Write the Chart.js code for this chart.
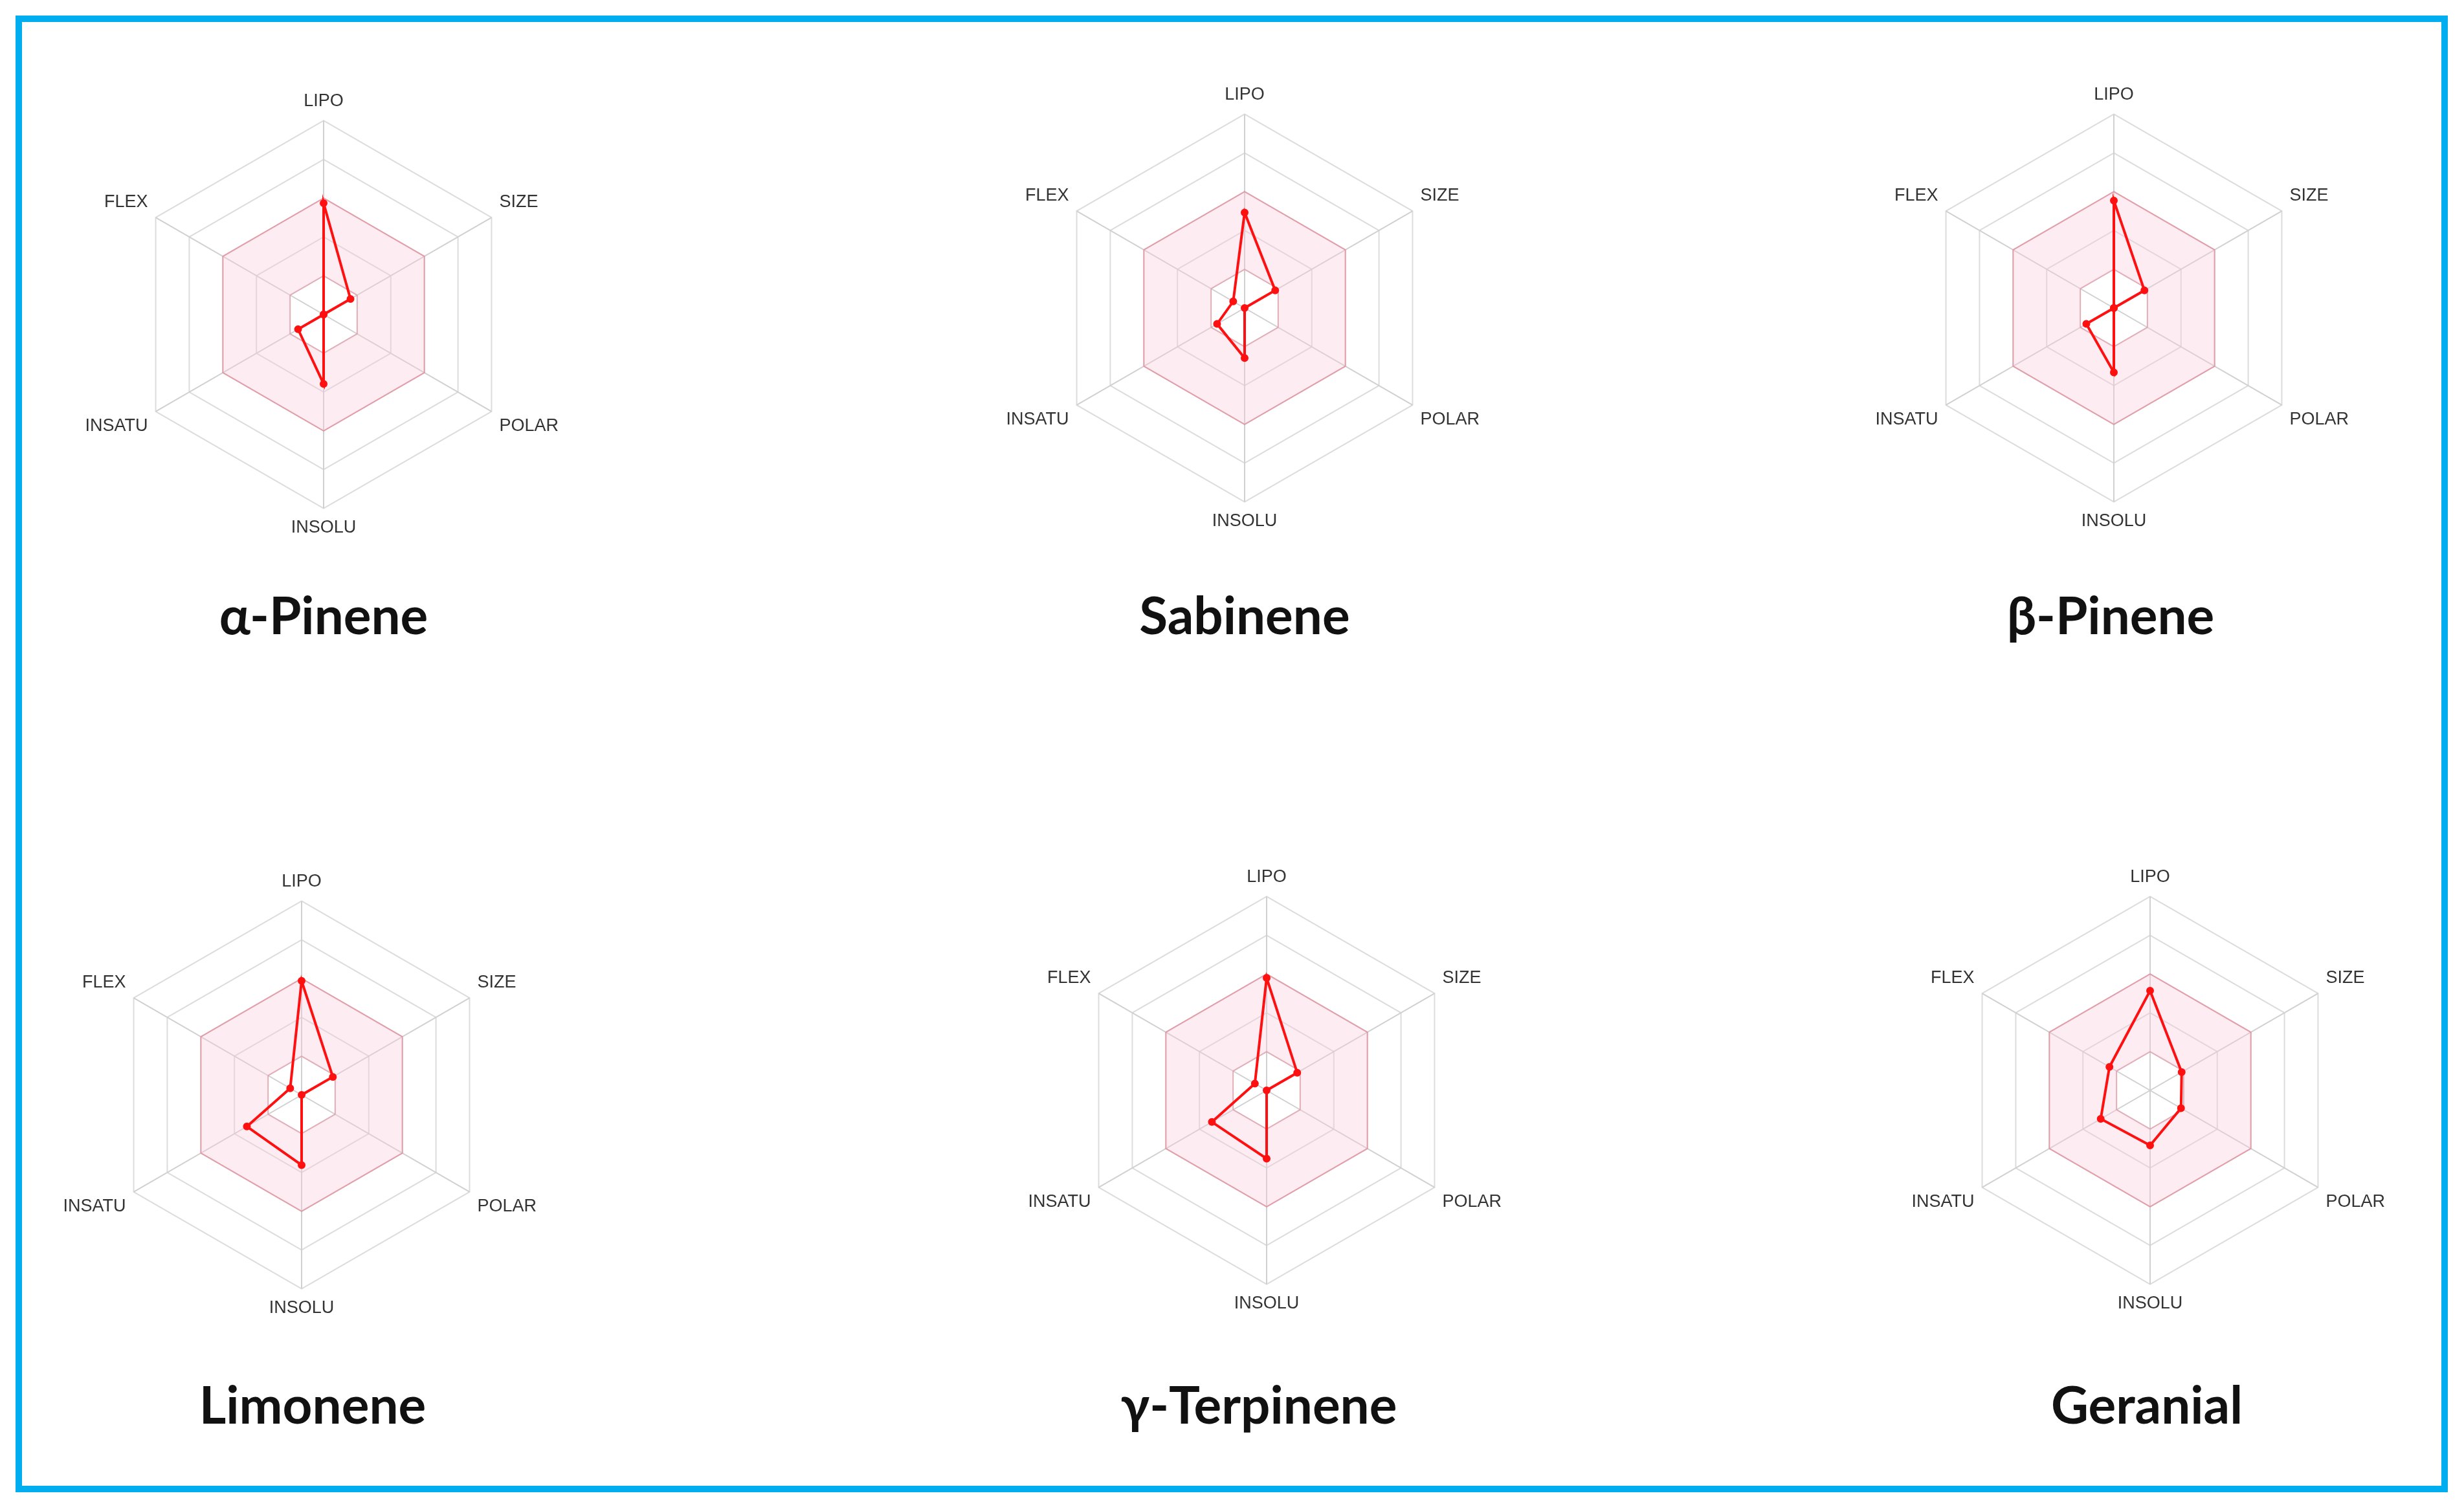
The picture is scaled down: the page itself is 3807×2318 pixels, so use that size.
<!DOCTYPE html>
<html>
<head>
<meta charset="UTF-8">
<title>Bioavailability radars</title>
<script src="https://cdn.jsdelivr.net/npm/chart.js"></script>
<style>
  html, body { margin: 0; padding: 0; background: #fff; }
  body { width: 3807px; height: 2318px; position: relative; overflow: hidden; }
  .frame { position: absolute; left: 24px; top: 24px; width: 3738px; height: 2262px; border: 10px solid #00aeef; }
  .cell { position: absolute; width: 1000px; height: 700px; }
  .title { position: absolute; width: 800px; text-align: center; font: bold 80px Lato, 'Open Sans', sans-serif; color: #111; }
</style>
</head>
<body>
<div class="frame"></div>

<script>
// axes of the radar
const axes = ['LIPO', 'SIZE', 'POLAR', 'INSOLU', 'INSATU', 'FLEX'];

// compound names
const compounds = ['α-Pinene', 'Sabinene', 'β-Pinene', 'Limonene', 'γ-Terpinene', 'Geranial'];

// values (0 = centre, 5 = outer ring)
const alphaPinene = [2.87, 0.80, 0.00, 1.79, 0.76, 0.00];
const sabinene    = [2.46, 0.91, 0.00, 1.29, 0.82, 0.34];
const betaPinene  = [2.77, 0.91, 0.00, 1.66, 0.82, 0.00];
const limonene    = [2.94, 0.93, 0.00, 1.81, 1.63, 0.34];
const gTerpinene  = [2.90, 0.91, 0.00, 1.76, 1.63, 0.35];
const geranial    = [2.57, 0.94, 0.92, 1.42, 1.47, 1.21];

// optimal range band (inner and outer edge)
const bandOuter = [3, 3, 3, 3, 3, 3];
const bandInner = [1, 1, 1, 1, 1, 1];

const series = [alphaPinene, sabinene, betaPinene, limonene, gTerpinene, geranial];

// where each radar sits on the page (centre x, centre y) and its title line
const centres = [[500, 486], [1923, 476], [3266, 476], [466, 1692], [1957, 1685], [3322, 1685]];
const titleY = [955, 955, 955, 2175, 2175, 2175];
const titleX = [500, 1923, 3261, 483, 1945, 3317];

series.forEach((vals, i) => {
  const div = document.createElement('div');
  div.className = 'cell';
  div.style.left = (centres[i][0] - 500) + 'px';
  div.style.top = (centres[i][1] - 350) + 'px';
  const cv = document.createElement('canvas');
  cv.width = 1000; cv.height = 700;
  div.appendChild(cv);
  document.body.appendChild(div);

  const t = document.createElement('div');
  t.className = 'title';
  t.textContent = compounds[i];
  t.style.left = (titleX[i] - 400) + 'px';
  t.style.top = (titleY[i] - 54) + 'px';
  document.body.appendChild(t);

  new Chart(cv, {
    type: 'radar',
    data: {
      labels: axes,
      datasets: [
        {
          data: vals,
          borderColor: '#ff1010',
          borderWidth: 4,
          pointRadius: 4,
          pointBackgroundColor: '#ff1010',
          pointBorderColor: '#ff1010',
          fill: false
        },
        {
          data: bandOuter,
          borderColor: 'rgba(225,110,130,0.55)',
          borderWidth: 2,
          pointRadius: 0,
          backgroundColor: 'rgba(250,200,215,0.35)',
          fill: '+1'
        },
        {
          data: bandInner,
          borderColor: 'rgba(225,110,130,0.45)',
          borderWidth: 2,
          pointRadius: 0,
          fill: false
        }
      ]
    },
    options: {
      responsive: false,
      animation: false,
      plugins: { legend: { display: false }, tooltip: { enabled: false } },
      layout: { padding: 4 },
      elements: { line: { tension: 0 } },
      scales: {
        r: {
          min: 0,
          max: 5,
          ticks: { display: false, stepSize: 1 },
          grid: { color: '#dcdcdc', lineWidth: 2 },
          angleLines: { color: '#d0d0d0', lineWidth: 2 },
          pointLabels: { color: '#333', font: { size: 27, family: 'Liberation Sans, Arial, sans-serif' }, padding: 14 }
        }
      }
    }
  });
});
</script>
</body>
</html>
